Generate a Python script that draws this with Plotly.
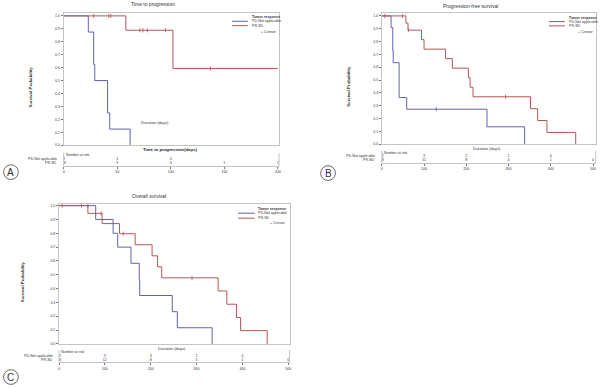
import plotly.graph_objects as go

W, H = 603, 388

# ---------------- data ----------------
# Panel A: Time to progression
A_pd_t = [0, 23, 28, 29, 41, 43, 62]
A_pd_s = [1.0, 0.875, 0.625, 0.5, 0.25, 0.125, 0.0]
A_pd_cens = []
A_pr_t = [0, 58, 102, 200]
A_pr_s = [1.0, 0.889, 0.593, 0.593]
A_pr_cens = [28, 42, 44, 71, 74, 78, 95, 137]
A_ticks = [0, 50, 100, 150, 200]
A_risk_pd = [8, 1, 0]
A_risk_pr = [18, 9, 3, 1, 1]

# Panel B: Progression-free survival
B_pd_t = [0, 22, 26, 27, 41, 59, 249, 338]
B_pd_s = [1.0, 0.909, 0.727, 0.636, 0.364, 0.273, 0.136, 0.0]
B_pd_cens = [129]
B_pr_t = [0, 57, 62, 94, 100, 151, 167, 205, 209, 216, 352, 369, 391, 459]
B_pr_s = [1.0, 0.944, 0.889, 0.815, 0.741, 0.667, 0.593, 0.519, 0.444, 0.370, 0.277, 0.185, 0.092, 0.0]
B_pr_cens = [7, 49, 63, 293]
B_ticks = [0, 100, 200, 300, 400, 500]
B_risk_pd = [12, 3, 2, 1, 0]
B_risk_pr = [18, 11, 8, 4, 1, 0]

# Panel C: Overall survival
C_pd_t = [0, 80, 118, 128, 157, 175, 176, 247, 258, 334]
C_pd_s = [1.0, 0.9, 0.8, 0.7, 0.583, 0.467, 0.35, 0.233, 0.117, 0.0]
C_pd_cens = [63]
C_pr_t = [0, 63, 94, 132, 166, 203, 215, 224, 347, 366, 387, 396, 454]
C_pr_s = [1.0, 0.944, 0.87, 0.797, 0.717, 0.637, 0.558, 0.478, 0.383, 0.287, 0.191, 0.096, 0.0]
C_pr_cens = [7, 49, 92, 140, 290]
C_ticks = [0, 100, 200, 300, 400, 500]
C_risk_pd = [12, 9, 3, 1, 0]
C_risk_pr = [18, 12, 8, 5, 1, 0]

group_names = ["PD-Not applicable", "PR-SD"]
titles = ["Time to progression", "Progression-free survival", "Overall survival"]
letters = ["A", "B", "C"]

# ---------------- styling ----------------
FONT = "Liberation Sans, Arial, sans-serif"
BLUE = "#5f62ad"
RED = "#b25757"
FRAME = "#c4c4c4"
TXT = "#333333"


def px_x(a):
    return a / W


def px_y(b):
    return 1 - b / H


def step_at(t, s, c):
    v = s[0]
    for ti, si in zip(t, s):
        if ti <= c:
            v = si
    return v


panels = [
    dict(pd=(A_pd_t, A_pd_s, A_pd_cens), pr=(A_pr_t, A_pr_s, A_pr_cens), ticks=A_ticks,
         rpd=A_risk_pd, rpr=A_risk_pr,
         xdom=(63, 279.4), xr=[0, 201], ydom=(13.3, 146), yr=[0, 1.0205],
         rdom=(152, 167), rr=[-0.75, 3.0],
         title=(153, 4.5), ytitle=(30, 87), dur=(155, 123), xlab=(170, 150),
         leg=dict(x0=232, x1=248, tx=250.7, y0=17.3, y1=21.4, y2=25.8, cx=278, cy=31.7),
         circ=(10, 173)),
    dict(pd=(B_pd_t, B_pd_s, B_pd_cens), pr=(B_pr_t, B_pr_s, B_pr_cens), ticks=B_ticks,
         rpd=B_risk_pd, rpr=B_risk_pr,
         xdom=(382.7, 597.7), xr=[0, 506.4], ydom=(13.3, 145), yr=[0, 1.0209],
         rdom=(149.5, 164), rr=[-0.675, 2.95],
         title=(471.7, 6), ytitle=(349, 87), dur=(488, 149), xlab=None,
         leg=dict(x0=550.7, x1=566.7, tx=569.3, y0=18.3, y1=21.7, y2=26, cx=597, cy=32),
         circ=(328.7, 174)),
    dict(pd=(C_pd_t, C_pd_s, C_pd_cens), pr=(C_pr_t, C_pr_s, C_pr_cens), ticks=C_ticks,
         rpd=C_risk_pd, rpr=C_risk_pr,
         xdom=(58.3, 290), xr=[0, 502.8], ydom=(205, 345.7), yr=[0, 1.0122],
         rdom=(350, 364.3), rr=[-0.5, 2.826],
         title=(149, 197.3), ytitle=(21.7, 283), dur=(172, 350), xlab=None,
         leg=dict(x0=238.3, x1=255, tx=256.7, y0=210, y1=214.3, y2=219.3, cx=287, cy=224.3),
         circ=(10, 379)),
]

fig = go.Figure()
layout = dict(width=W, height=H, margin=dict(l=0, r=0, t=0, b=0),
              paper_bgcolor="white", plot_bgcolor="white", showlegend=False,
              font=dict(family=FONT, color=TXT, size=4))
annotations = []
shapes = []

for i, p in enumerate(panels):
    mi = 2 * i + 1
    ri = 2 * i + 2
    mx, my = f"x{mi}", f"y{mi}"
    rx, ry = f"x{ri}", f"y{ri}"
    xk = "xaxis" if mi == 1 else f"xaxis{mi}"
    yk = "yaxis" if mi == 1 else f"yaxis{mi}"
    if mi == 1:
        mx, my = "x", "y"

    # curves
    for (t, s, cens), col in ((p["pd"], BLUE), (p["pr"], RED)):
        fig.add_trace(go.Scatter(x=t, y=s, mode="lines", line=dict(color=col, width=1, shape="hv"),
                                 xaxis=mx, yaxis=my, hoverinfo="skip"))
        if cens:
            fig.add_trace(go.Scatter(x=cens, y=[step_at(t, s, c) for c in cens], mode="markers",
                                     marker=dict(symbol="line-ns", size=3, color=col,
                                                 line=dict(color=col, width=0.8)),
                                     xaxis=mx, yaxis=my, hoverinfo="skip"))

    layout[xk] = dict(domain=[px_x(p["xdom"][0]), px_x(p["xdom"][1])], range=p["xr"],
                      showgrid=False, zeroline=False, showticklabels=False, ticks="",
                      showline=True, mirror=True, linecolor=FRAME, linewidth=1,
                      anchor=my)
    layout[yk] = dict(domain=[px_y(p["ydom"][1]), px_y(p["ydom"][0])], range=p["yr"],
                      showgrid=False, zeroline=False, tickvals=[k / 10 for k in range(11)],
                      tickformat=".1f", ticks="outside", ticklen=2, tickwidth=0.7,
                      tickcolor="#777", tickfont=dict(size=3.5, color=TXT),
                      showline=True, mirror=True, linecolor=FRAME, linewidth=1,
                      anchor=mx)

    # risk table
    fig.add_trace(go.Scatter(x=p["ticks"][:len(p["rpd"])], y=[1] * len(p["rpd"]),
                             text=[str(v) for v in p["rpd"]], mode="text",
                             textfont=dict(size=3.6, color=TXT), xaxis=rx, yaxis=ry,
                             hoverinfo="skip"))
    fig.add_trace(go.Scatter(x=p["ticks"][:len(p["rpr"])], y=[0] * len(p["rpr"]),
                             text=[str(v) for v in p["rpr"]], mode="text",
                             textfont=dict(size=3.6, color=TXT), xaxis=rx, yaxis=ry,
                             hoverinfo="skip"))
    layout[f"xaxis{ri}"] = dict(domain=[px_x(p["xdom"][0]), px_x(p["xdom"][1])], range=p["xr"],
                                showgrid=False, zeroline=False, tickvals=p["ticks"],
                                ticks="outside", ticklen=2, tickwidth=0.7, tickcolor="#777",
                                tickfont=dict(size=3.6, color=TXT),
                                showline=True, linecolor=FRAME, linewidth=1, anchor=ry)
    layout[f"yaxis{ri}"] = dict(domain=[px_y(p["rdom"][1]), px_y(p["rdom"][0])], range=p["rr"],
                                showgrid=False, zeroline=False, showticklabels=False, ticks="",
                                showline=False, anchor=rx)
    shapes.append(dict(type="line", xref="paper", yref="paper",
                       x0=px_x(p["xdom"][0]), x1=px_x(p["xdom"][0]),
                       y0=px_y(p["rdom"][1]), y1=px_y(p["rdom"][0] + 2), line=dict(color=FRAME, width=1)))
    shapes.append(dict(type="line", xref="paper", yref="paper",
                       x0=px_x(p["xdom"][1]), x1=px_x(p["xdom"][1]),
                       y0=px_y(p["rdom"][1]), y1=px_y(p["rdom"][0] + 2), line=dict(color=FRAME, width=1)))
    annotations.append(dict(text="Number at risk", xref=rx, yref=ry, x=p["xr"][0], y=2,
                            xanchor="left", yanchor="middle", showarrow=False,
                            font=dict(size=3.6, color=TXT)))
    for name, yy in zip(group_names, [1, 0]):
        annotations.append(dict(text=name, xref="paper", yref=ry, x=px_x(p["xdom"][0] - 4.5), y=yy,
                                xanchor="right", yanchor="middle", showarrow=False,
                                font=dict(size=3.6, color=TXT)))

    # titles and labels
    annotations.append(dict(text=titles[i], xref="paper", yref="paper",
                            x=px_x(p["title"][0]), y=px_y(p["title"][1]),
                            xanchor="center", yanchor="middle", showarrow=False,
                            font=dict(size=5, color=TXT)))
    annotations.append(dict(text="<b>Survival Probability</b>", xref="paper", yref="paper",
                            x=px_x(p["ytitle"][0]), y=px_y(p["ytitle"][1]), textangle=-90,
                            xanchor="center", yanchor="middle", showarrow=False,
                            font=dict(size=4.3, color=TXT)))
    annotations.append(dict(text="Duration (days)", xref="paper", yref="paper",
                            x=px_x(p["dur"][0]), y=px_y(p["dur"][1]),
                            xanchor="center", yanchor="middle", showarrow=False,
                            font=dict(size=4, color=TXT)))
    if p["xlab"]:
        annotations.append(dict(text="<b>Time to progression(days)</b>", xref="paper", yref="paper",
                                x=px_x(p["xlab"][0]), y=px_y(p["xlab"][1]),
                                xanchor="center", yanchor="middle", showarrow=False,
                                font=dict(size=4.3, color="#222")))

    # legend
    lg = p["leg"]
    annotations.append(dict(text="<b>Tumor response</b>", xref="paper", yref="paper",
                            x=px_x(lg["tx"]), y=px_y(lg["y0"]), xanchor="left", yanchor="middle",
                            showarrow=False, font=dict(size=3.6, color=TXT)))
    for name, col, yy in zip(group_names, [BLUE, RED], [lg["y1"], lg["y2"]]):
        shapes.append(dict(type="line", xref="paper", yref="paper",
                           x0=px_x(lg["x0"]), x1=px_x(lg["x1"]), y0=px_y(yy), y1=px_y(yy),
                           line=dict(color=col, width=1)))
        annotations.append(dict(text=name, xref="paper", yref="paper",
                                x=px_x(lg["tx"]), y=px_y(yy), xanchor="left", yanchor="middle",
                                showarrow=False, font=dict(size=3.6, color=TXT)))
    annotations.append(dict(text="+ Censor", xref="paper", yref="paper",
                            x=px_x(lg["cx"]), y=px_y(lg["cy"]), xanchor="right", yanchor="middle",
                            showarrow=False, font=dict(size=3.6, color=TXT)))

    # circled letter
    cx, cy = p["circ"]
    r = 7.4
    shapes.append(dict(type="circle", xref="paper", yref="paper",
                       x0=px_x(cx - r), x1=px_x(cx + r), y0=px_y(cy + r), y1=px_y(cy - r),
                       line=dict(color="#444", width=0.8)))
    annotations.append(dict(text=letters[i], xref="paper", yref="paper",
                            x=px_x(cx), y=px_y(cy), xanchor="center", yanchor="middle",
                            showarrow=False, font=dict(size=10, color="#333")))

layout["annotations"] = annotations
layout["shapes"] = shapes
fig.update_layout(**layout)
fig.write_html("out.html", config={"displayModeBar": False},
               post_script="document.body.style.margin='0';document.body.style.overflow='hidden';")
